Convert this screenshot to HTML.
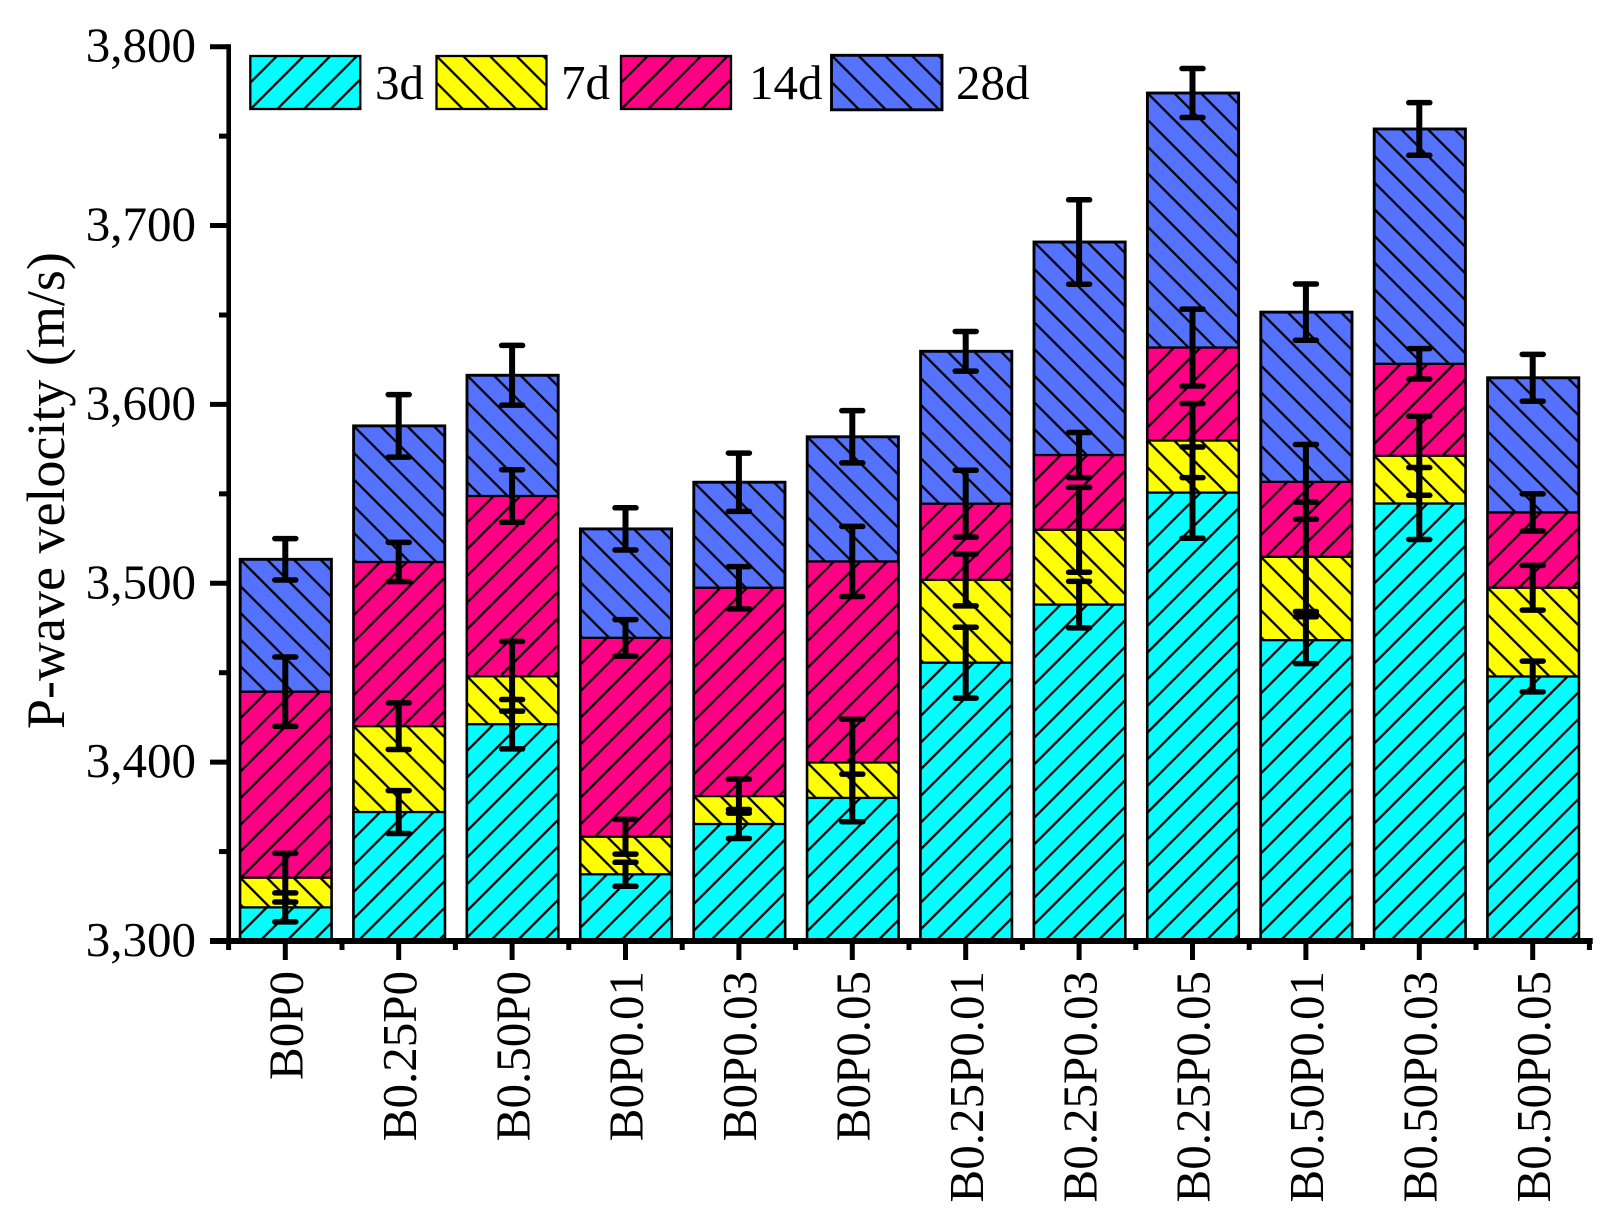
<!DOCTYPE html>
<html lang="en">
<head>
<meta charset="utf-8">
<title>P-wave velocity chart</title>
<style>
  html, body { margin: 0; padding: 0; background: #fff; }
  svg { display: block; font-family: "Liberation Serif", serif; }
</style>
</head>
<body>
<svg id="chart" xmlns="http://www.w3.org/2000/svg" width="1620" height="1228" viewBox="0 0 1620 1228">
  <rect x="0" y="0" width="1620" height="1228" fill="#ffffff"/>
  <defs id="hatch-defs"></defs>
  <g id="bars"></g>
  <g id="errors"></g>
  <g id="axes"></g>
  <g id="legend"></g>
  <text transform="translate(64 729) rotate(-90)" font-size="54" fill="#000">P-wave velocity (m/s)</text>
</svg>
<script>
const categories = ['B0P0','B0.25P0','B0.50P0','B0P0.01','B0P0.03','B0P0.05','B0.25P0.01','B0.25P0.03','B0.25P0.05','B0.50P0.01','B0.50P0.03','B0.50P0.05'];
const seriesNames = ['3d','7d','14d','28d'];
const values3d  = [3318.8,3372.1,3421.2,3337.3,3365.4,3380.0,3455.6,3488.1,3550.7,3468.2,3544.6,3447.9];
const values7d  = [3335.4,3420.1,3448.0,3358.3,3381.0,3399.8,3501.9,3529.9,3579.8,3514.8,3571.3,3497.5];
const values14d = [3439.4,3511.9,3548.8,3469.5,3497.5,3512.2,3544.5,3571.7,3631.8,3556.7,3622.7,3539.6];
const values28d = [3513.4,3588.0,3616.3,3530.4,3556.5,3581.9,3629.7,3690.8,3774.1,3651.6,3754.0,3614.9];
const errors3d  = [8.1,12.0,13.8,6.7,8.1,13.3,19.8,13.0,25.5,13.1,20.1,8.6];
const errors7d  = [13.6,13.0,19.5,9.7,9.5,24.2,14.5,23.7,20.7,30.6,22.1,12.5];
const errors14d = [19.4,11.0,14.7,10.2,11.8,19.6,18.7,12.6,21.5,20.9,8.5,10.4];
const errors28d = [11.6,17.5,16.7,11.8,16.3,14.6,11.1,23.6,13.7,15.7,14.7,13.1];
const hiddenLowerCaps7d = ['B0P0.05'];
const yTickValues = [3300,3400,3500,3600,3700,3800];
const yMinorTickValues = [3350,3450,3550,3650,3750];
const yTickLabels = ['3,300','3,400','3,500','3,600','3,700','3,800'];

const NS = 'http://www.w3.org/2000/svg';
const fills = { '3d': '#00FFFF', '7d': '#FFFF00', '14d': '#FF0084', '28d': '#5572FF' };
const hatchDir = { '3d': 'up', '7d': 'down', '14d': 'up', '28d': 'down' };
const strokeW = { '3d': 2.3, '7d': 2.3, '14d': 2.3, '28d': 2.9 };
const HATCH = 26.67;
const X0 = 285.3, XSTEP = 113.4, BAR_W = 91.2;
const Y_TOP = 46.7, Y_BOTTOM = 941;
const DOMAIN_MIN = 3300, DOMAIN_MAX = 3800;

function xScale(i) { return X0 + XSTEP * i; }
function yScale(v) { return Y_BOTTOM - (v - DOMAIN_MIN) * (Y_BOTTOM - Y_TOP) / (DOMAIN_MAX - DOMAIN_MIN); }
function make(tag, attrs, parent) {
  const el = document.createElementNS(NS, tag);
  for (const k in attrs) el.setAttribute(k, attrs[k]);
  parent.appendChild(el);
  return el;
}

const defs = document.getElementById('hatch-defs');
const barsG = document.getElementById('bars');
const errG = document.getElementById('errors');
const axesG = document.getElementById('axes');
const legendG = document.getElementById('legend');
let patternCounter = 0;

function hatchPattern(series, left, top) {
  const id = 'hatch-' + (patternCounter++);
  const p = make('pattern', { id: id, patternUnits: 'userSpaceOnUse', x: left, y: top, width: HATCH, height: HATCH }, defs);
  make('rect', { x: 0, y: 0, width: HATCH, height: HATCH, fill: fills[series] }, p);
  const S = HATCH;
  const d = hatchDir[series] === 'up'
    ? `M-2,2 L2,-2 M-2,${S+2} L${S+2},-2 M${S-2},${S+2} L${S+2},${S-2}`
    : `M-2,-2 L${S+2},${S+2} M-2,${S-2} L2,${S+2} M${S-2},-2 L${S+2},2`;
  make('path', { d: d, stroke: '#000', 'stroke-width': 2.3, fill: 'none' }, p);
  return 'url(#' + id + ')';
}

function drawBarSeries(series, vals) {
  vals.forEach(function (v, i) {
    const left = xScale(i) + 0.5 - BAR_W / 2;
    const top = yScale(v);
    const rect = make('rect', {
      x: left, y: top, width: BAR_W, height: Y_BOTTOM - top,
      fill: hatchPattern(series, left, top),
      stroke: '#000', 'stroke-width': strokeW[series]
    }, barsG);
    
    
  });
}

function drawErrorSeries(series, vals, errs, hiddenLower) {
  vals.forEach(function (v, i) {
    const x = xScale(i);
    const yUp = yScale(v + errs[i]);
    const yLow = yScale(v - errs[i]);
    const g = make('g', {}, errG);
    
    
    make('line', { x1: x, x2: x, y1: yUp, y2: yLow, stroke: '#000', 'stroke-width': 6 }, g);
    make('line', { x1: x - 10.5, x2: x + 10.5, y1: yUp, y2: yUp, stroke: '#000', 'stroke-width': 5.5, 'stroke-linecap': 'round' }, g);
    if (hiddenLower.indexOf(categories[i]) === -1) {
      make('line', { x1: x - 10.5, x2: x + 10.5, y1: yLow, y2: yLow, stroke: '#000', 'stroke-width': 5.5, 'stroke-linecap': 'round' }, g);
    }
  });
}

drawBarSeries('28d', values28d);
drawBarSeries('14d', values14d);
drawBarSeries('7d', values7d);
drawBarSeries('3d', values3d);

drawErrorSeries('28d', values28d, errors28d, []);
drawErrorSeries('14d', values14d, errors14d, []);
drawErrorSeries('7d', values7d, errors7d, hiddenLowerCaps7d);
drawErrorSeries('3d', values3d, errors3d, []);

/* axes */
const AXIS_X = 228.7;
const yAxisLine = make('line', { x1: AXIS_X, x2: AXIS_X, y1: yScale(3800) - 2.5, y2: Y_BOTTOM, stroke: '#000', 'stroke-width': 4.6 }, axesG);


const xAxisLine = make('line', { x1: 210, x2: 1592.7, y1: Y_BOTTOM, y2: Y_BOTTOM, stroke: '#000', 'stroke-width': 6 }, axesG);



yTickValues.forEach(function (v, i) {
  const y = yScale(v);
  const tick = make('line', { x1: 210, x2: AXIS_X, y1: y, y2: y, stroke: '#000', 'stroke-width': 5 }, axesG);
  
  
  const label = make('text', { x: 196, y: y + 15, 'text-anchor': 'end', 'font-size': 49, fill: '#000' }, axesG);
  
  
  label.textContent = yTickLabels[i];
});
yMinorTickValues.forEach(function (v) {
  const y = yScale(v);
  const tick = make('line', { x1: 219, x2: AXIS_X, y1: y, y2: y, stroke: '#000', 'stroke-width': 5 }, axesG);
  
  
});

categories.forEach(function (c, i) {
  const x = xScale(i);
  const tick = make('line', { x1: x, x2: x, y1: Y_BOTTOM, y2: 960, stroke: '#000', 'stroke-width': 5 }, axesG);
  
  
  const label = make('text', { transform: 'translate(' + (x + 17.2) + ' 971) rotate(-90)', 'text-anchor': 'end', 'font-size': 49, fill: '#000' }, axesG);
  
  
  label.textContent = c;
});
for (let i = 0; i <= categories.length; i++) {
  const x = xScale(i) - XSTEP / 2;
  const tick = make('line', { x1: x, x2: x, y1: Y_BOTTOM, y2: 950, stroke: '#000', 'stroke-width': 5 }, axesG);
  
  
}

/* legend */
const legendBoxLeft = { '3d': 250.3, '7d': 436.5, '14d': 621, '28d': 831.5 };
const legendTextLeft = { '3d': 375, '7d': 561, '14d': 749, '28d': 956 };
seriesNames.forEach(function (s) {
  const left = legendBoxLeft[s];
  const top = s === '28d' ? 55.3 : 56;
  const g = make('g', {}, legendG);
  
  
  const box = make('rect', {
    x: left, y: top, width: s === '28d' ? 110.5 : 110, height: s === '28d' ? 54.5 : 53,
    fill: hatchPattern(s, left, top), stroke: '#000', 'stroke-width': strokeW[s]
  }, g);
  
  
  const text = make('text', { x: legendTextLeft[s], y: 99, 'font-size': 49, fill: '#000' }, g);
  
  
  text.textContent = s;
});
</script>
</body>
</html>
